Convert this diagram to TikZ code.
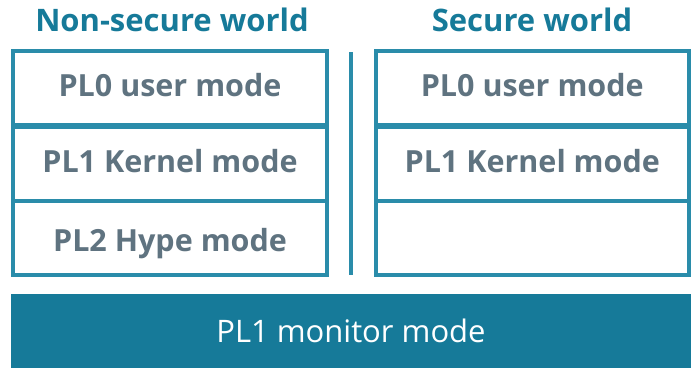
\documentclass[tikz,border=0pt]{standalone}
\usepackage{fontspec}
\setmainfont{Open Sans}
\definecolor{frame}{HTML}{2A8CAA}
\definecolor{bar}{HTML}{167A99}
\definecolor{label}{HTML}{5F7380}
\tikzset{
  cell/.style={draw=frame, line width=4pt, fill=white, minimum width=314pt, minimum height=74pt, inner sep=0pt, text height=22pt, text depth=5pt, text=label, font=\bfseries\fontsize{30.5}{34}\selectfont},
  heading/.style={text=bar, font=\bfseries\fontsize{31}{34}\selectfont, inner sep=0pt}
}
\begin{document}
\begin{tikzpicture}[x=1pt,y=-1pt]
  \useasboundingbox (0,0) rectangle (696,368);
  % world headings
  \node[heading] (hns) at (172,20) {Non-secure world};
  \node[heading] (hs) at (532,20) {Secure world};
  % non-secure stack
  \node[cell] (n0) at (170,88) {PL0 user mode};
  \node[cell] (n1) at (170,163.5) {PL1 Kernel mode};
  \node[cell, text height=28pt, text depth=1pt] (n2) at (170,238) {PL2 Hype mode};
  % secure stack
  \node[cell, minimum width=313.5pt] (s0) at (532.25,88) {PL0 user mode};
  \node[cell, minimum width=313.5pt] (s1) at (532.25,163.5) {PL1 Kernel mode};
  \node[cell, minimum width=313.5pt] (s2) at (532.25,238) {};
  % separator between worlds
  \coordinate (sepT) at (350.5,52);
  \coordinate (sepB) at (350.5,275);
  \draw[frame, line width=4pt] (sepT) -- (sepB);
  % monitor bar
  \node[fill=bar, minimum width=680pt, minimum height=74pt, inner sep=0pt, text=white, font=\fontsize{31}{34}\selectfont] (mon) at (351,331) {PL1 monitor mode};
\end{tikzpicture}
\end{document}
